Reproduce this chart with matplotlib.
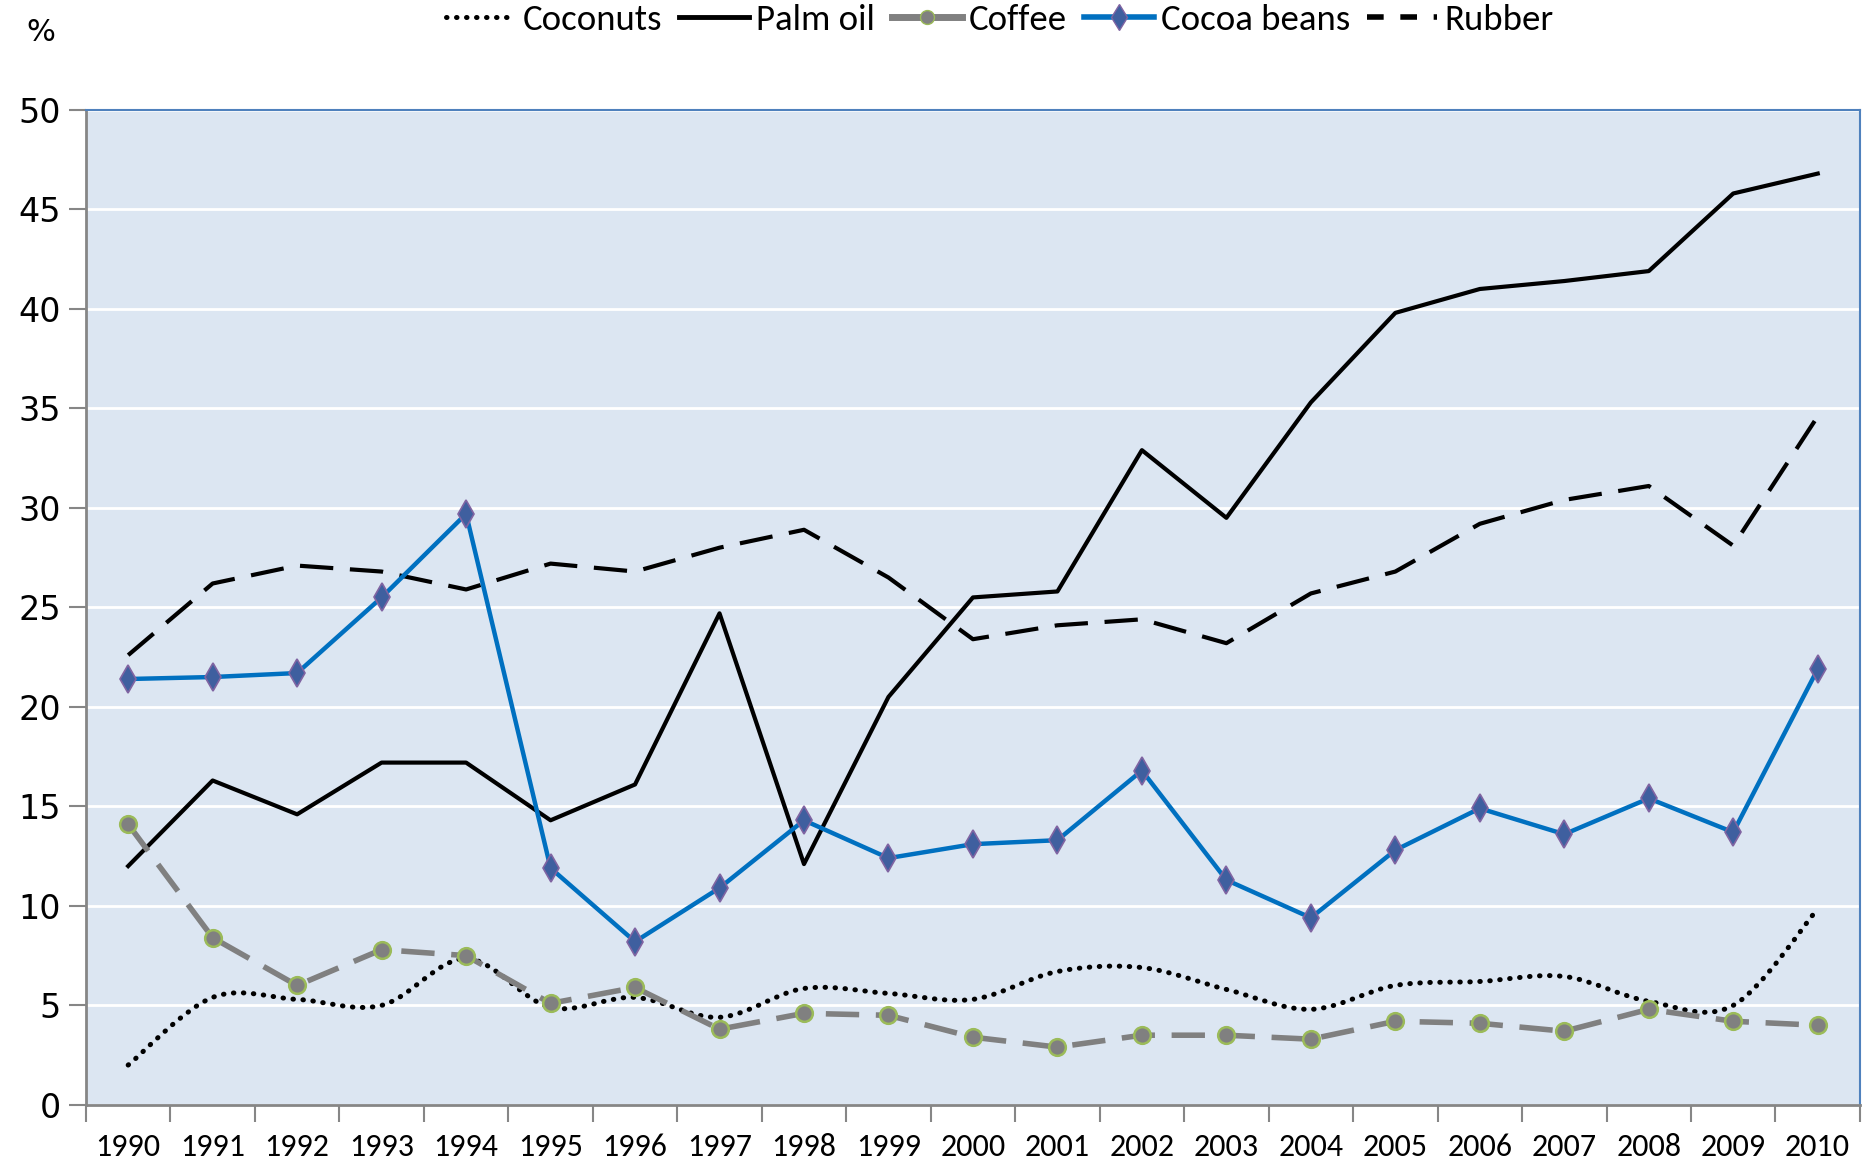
import matplotlib.pyplot as plt
from matplotlib.path import Path
from matplotlib.patches import PathPatch
from matplotlib.lines import Line2D

years = [str(y) for y in range(1990, 2011)]

coconuts = [2.0, 5.4, 5.3, 5.0, 7.35, 4.9, 5.4, 4.4, 5.85, 5.6, 5.3,
            6.7, 6.9, 5.8, 4.8, 6.0, 6.2, 6.45, 5.2, 5.0, 9.85]
palm_oil = [12.0, 16.3, 14.6, 17.2, 17.2, 14.3, 16.1, 24.7, 12.1, 20.5, 25.5,
            25.8, 32.9, 29.5, 35.3, 39.8, 41.0, 41.4, 41.9, 45.8, 46.8]
coffee = [14.1, 8.4, 6.0, 7.8, 7.5, 5.1, 5.9, 3.8, 4.6, 4.5, 3.4,
          2.9, 3.5, 3.5, 3.3, 4.2, 4.1, 3.7, 4.8, 4.2, 4.0]
cocoa = [21.4, 21.5, 21.7, 25.5, 29.7, 11.9, 8.2, 10.9, 14.3, 12.4, 13.1,
         13.3, 16.8, 11.3, 9.4, 12.8, 14.9, 13.6, 15.4, 13.7, 21.9]
rubber = [22.6, 26.2, 27.1, 26.8, 25.9, 27.2, 26.8, 28.0, 28.9, 26.5, 23.4,
          24.1, 24.4, 23.2, 25.7, 26.8, 29.2, 30.4, 31.1, 28.1, 34.6]

font = ['Carlito', 'Liberation Sans Narrow', 'DejaVu Sans']

fig = plt.figure(figsize=(18.68, 11.63), dpi=100)
ax = fig.add_axes([0.046, 0.05, 0.9497, 0.8555])
ax.set_facecolor('#DCE6F2')

x = list(range(len(years)))

# coconuts: smoothed line like Excel's "smoothed line" option (bezier through the points)
verts = [(x[0], coconuts[0])]
codes = [Path.MOVETO]
n = len(x)
for i in range(n - 1):
    p0 = (x[max(i - 1, 0)], coconuts[max(i - 1, 0)])
    p1 = (x[i], coconuts[i])
    p2 = (x[i + 1], coconuts[i + 1])
    p3 = (x[min(i + 2, n - 1)], coconuts[min(i + 2, n - 1)])
    c1 = (p1[0] + (p2[0] - p0[0]) / 6, p1[1] + (p2[1] - p0[1]) / 6)
    c2 = (p2[0] - (p3[0] - p1[0]) / 6, p2[1] - (p3[1] - p1[1]) / 6)
    verts += [c1, c2, p2]
    codes += [Path.CURVE4] * 3
patch = PathPatch(Path(verts, codes), fill=False, edgecolor='black', lw=3.6,
                  linestyle=(0, (0.1, 1.9)), capstyle='round', zorder=3)
ax.add_patch(patch)

ax.plot(x, palm_oil, color='black', lw=3, zorder=4)
ax.plot(x, coffee, color='#808080', lw=4, linestyle=(0, (6, 3)),
        marker='o', ms=12, mfc='#808080', mec='#9BBB59', mew=1.8, zorder=5)
ax.plot(x, cocoa, color='#0070C0', lw=3.2, marker='d', ms=14,
        mfc='#3F5F9F', mec='#8064A2', mew=1.2, zorder=6)
ax.plot(x, rubber, color='black', lw=3, linestyle=(0, (8, 4)), zorder=4)

ax.set_xlim(-0.5, 20.5)
ax.set_ylim(0, 50)
ax.set_yticks(range(0, 51, 5))
ax.yaxis.grid(True, color='white', lw=2)
ax.set_axisbelow(True)

ax.set_xticks(x)
ax.set_xticklabels(years, fontsize=23, family=font)
ax.set_xticks([i - 0.5 for i in range(n + 1)], minor=True)
ax.tick_params(axis='x', which='major', length=0, pad=20)
ax.tick_params(axis='x', which='minor', length=12, width=1.5, color='#868686')
ax.tick_params(axis='y', length=12, width=1.5, color='#868686', labelsize=24, pad=6)

for s in ['left', 'bottom']:
    ax.spines[s].set_color('#868686')
    ax.spines[s].set_linewidth(2)
for s in ['top', 'right']:
    ax.spines[s].set_color('#4F81BD')
    ax.spines[s].set_linewidth(1.5)

handles = [
    Line2D([], [], color='black', lw=3.6, linestyle=(0, (0.1, 1.9)), dash_capstyle='round'),
    Line2D([], [], color='black', lw=3.5),
    Line2D([], [], color='#808080', lw=5, marker='o', ms=10, mfc='#808080', mec='#9BBB59'),
    Line2D([], [], color='#0070C0', lw=4, marker='d', ms=13, mfc='#3F5F9F', mec='#8064A2'),
    Line2D([], [], color='black', lw=4, linestyle=(0, (3, 3))),
]
labels = ['Coconuts', 'Palm oil', 'Coffee', 'Cocoa beans', 'Rubber']
fig.legend(handles, labels, loc='upper center', bbox_to_anchor=(0.535, 1.025), ncol=5,
           frameon=False, prop={'family': font, 'size': 26.5}, handlelength=1.9,
           handletextpad=0.2, columnspacing=0.45)

fig.text(0.022, 0.972, '%', fontsize=22, ha='center', va='center')

fig.savefig('out.png', dpi=100)
